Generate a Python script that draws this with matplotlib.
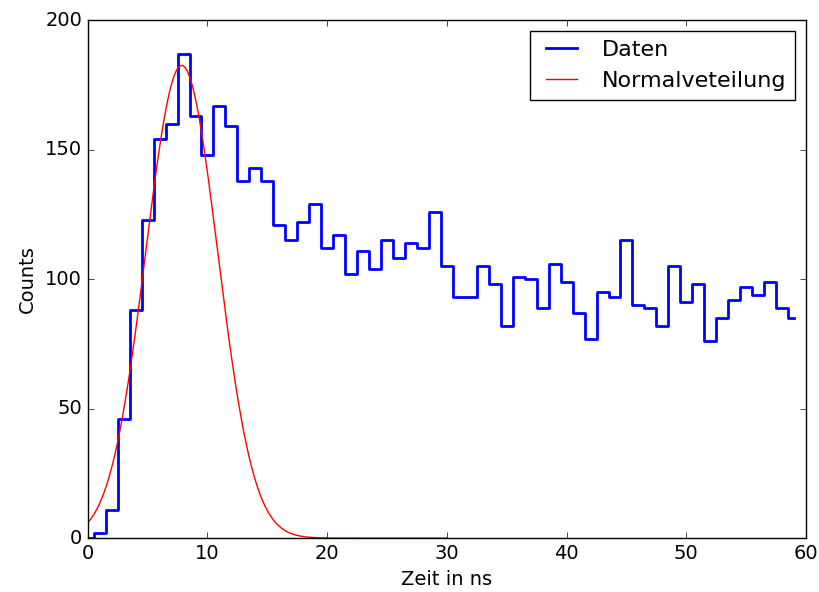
import numpy as np
import matplotlib
matplotlib.use("Agg")
import matplotlib.pyplot as plt

# --- Data ---
zeit = np.arange(0, 60)
counts = [0, 2, 11, 46, 88, 123, 154, 160, 187, 163,
          148, 167, 159, 138, 143, 138, 121, 115, 122, 129,
          112, 117, 102, 111, 104, 115, 108, 114, 112, 126,
          105, 93, 93, 105, 98, 82, 101, 100, 89, 106,
          99, 87, 77, 95, 93, 115, 90, 89, 82, 105,
          91, 98, 76, 85, 92, 97, 94, 99, 89, 85]

# fit parameters of the normal distribution
amp = 182.5
mu = 7.85
sigma = 3.0

plt.style.use('classic')
fig = plt.figure(figsize=(8.2, 5.92), dpi=100, facecolor='white')
ax = fig.add_subplot(111)

ax.step(zeit, counts, where='mid', color='b', linewidth=2, label='Daten')
x_fit = np.linspace(0, 30, 400)
ax.plot(x_fit, amp * np.exp(-(x_fit - mu) ** 2 / (2 * sigma ** 2)),
        color='r', linewidth=1, label='Normalveteilung')

ax.set_xlim(0, 60)
ax.set_ylim(0, 200)
ax.set_xticks([0, 10, 20, 30, 40, 50, 60])
ax.set_yticks([0, 50, 100, 150, 200])
ax.set_xlabel('Zeit in ns', fontsize=14)
ax.set_ylabel('Counts', fontsize=14, labelpad=6)
ax.tick_params(labelsize=14)

ax.legend(loc='upper right', fontsize=16)

fig.subplots_adjust(left=0.107, right=0.983, top=0.966, bottom=0.091)
fig.savefig('out.png', dpi=100, facecolor='white')
